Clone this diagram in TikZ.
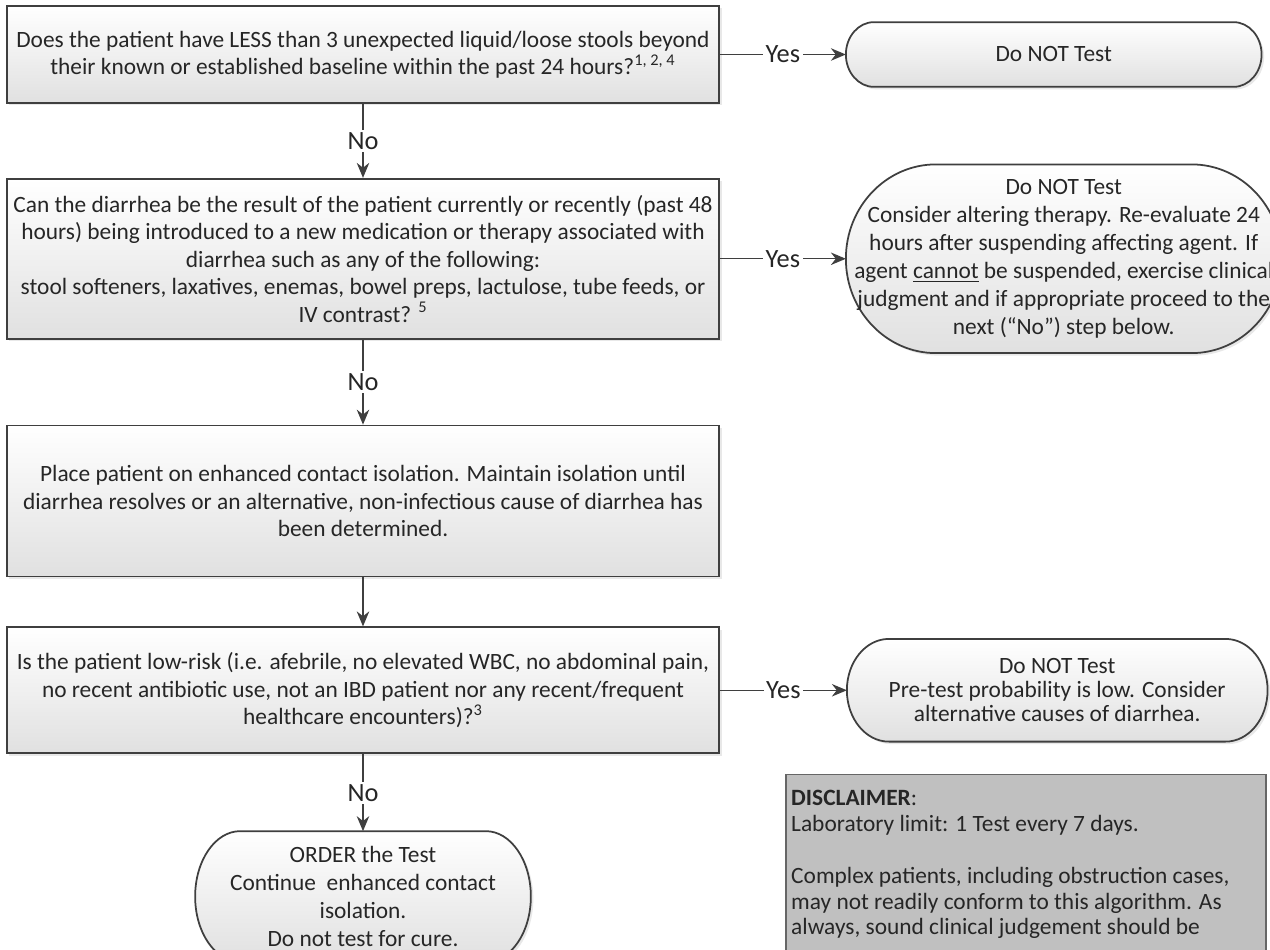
\documentclass[tikz,border=0pt]{standalone}
\usepackage{fontspec}
\setmainfont{Carlito}
\usepackage{tikz}
\usetikzlibrary{positioning, arrows.meta, calc, backgrounds, shadows}
\definecolor{edgegray}{HTML}{3F3F3F}
\definecolor{inkgray}{HTML}{262626}
\definecolor{discgray}{HTML}{C0C0C0}
\tikzstyle{arrow} = [thick,->,>={Stealth[length=3mm,width=2.5mm]},draw=edgegray]
\tikzstyle{softshadow} = [drop shadow={shadow xshift=0.5mm, shadow yshift=-0.5mm, opacity=0.18}]
\tikzstyle{question} = [rectangle, minimum width=142.4mm, align=center, draw=edgegray, line width=1pt, top color=white, bottom color=black!12, softshadow, text=inkgray, font=\fontsize{13.3pt}{15.6pt}\selectfont]
\tikzstyle{terminal} = [rectangle, inner xsep=0mm, align=center, text=inkgray, font=\fontsize{13.3pt}{15.9pt}\selectfont]
\tikzstyle{termline} = [draw=edgegray, line width=1pt, top color=white, bottom color=black!12, softshadow]
\tikzstyle{answer} = [fill=white, inner sep=0.5mm, text=inkgray, font=\fontsize{15pt}{16pt}\selectfont]
\tikzstyle{disclaimer} = [rectangle, draw=black!60, line width=1pt, fill=discgray, inner xsep=1mm, inner ysep=3.2mm, text=inkgray, font=\fontsize{13.3pt}{14.7pt}\selectfont]
% terminator outline round a named node: #1 node, #2 end radius
\newcommand{\termoutline}[2]{%
  \path[termline] let \p1=(#1.north west), \p2=(#1.south east), \n1={(\y1-\y2)/2} in
    ({\x1+#2},\y1) -- ({\x2-#2},\y1) arc[start angle=90, end angle=-90, x radius=#2, y radius=\n1]
    -- ({\x1+#2},\y2) arc[start angle=270, end angle=90, x radius=#2, y radius=\n1] -- cycle;}

\begin{document}
\begin{tikzpicture}[node distance=14.8mm]
\useasboundingbox (-72.6mm,10.9mm) rectangle ++(254mm,-190mm);
\node (lessthree) [question, minimum height=19.4mm] {Does the patient have LESS than 3 unexpected liquid/loose stools beyond\\their known or established baseline within the past 24 hours?\textsuperscript{1, 2, 4}};
\node (notest) [terminal, right=25.2mm of lessthree, minimum width=83mm, minimum height=12.8mm] {Do NOT Test};
\node (medication) [question, below=14.8mm of lessthree, minimum height=32mm] {Can the diarrhea be the result of the patient currently or recently (past 48\\hours) being introduced to a new medication or therapy associated with\\diarrhea such as any of the following:\\stool softeners, laxatives, enemas, bowel preps, lactulose, tube feeds, or\\IV contrast? \textsuperscript{5}};
\node (altering) [terminal, right=25.2mm of medication, minimum width=87mm, minimum height=37.6mm, font=\fontsize{13.3pt}{16pt}\selectfont] {Do NOT Test\\Consider altering therapy. Re-evaluate 24\\hours after suspending affecting agent. If\\agent \underline{cannot} be suspended, exercise clinical\\judgment and if appropriate proceed to the\\next (“No”) step below.};
\node (isolation) [question, below=17mm of medication, minimum height=30.2mm] {Place patient on enhanced contact isolation. Maintain isolation until\\diarrhea resolves or an alternative, non-infectious cause of diarrhea has\\been determined.};
\node (lowrisk) [question, below=9.8mm of isolation, minimum height=25.2mm] {Is the patient low-risk (i.e. afebrile, no elevated WBC, no abdominal pain,\\no recent antibiotic use, not an IBD patient nor any recent/frequent\\healthcare encounters)?\textsuperscript{3}};
\node (pretest) [terminal, right=25.4mm of lowrisk, minimum width=84mm, minimum height=20.4mm, font=\fontsize{13.3pt}{13.6pt}\selectfont] {Do NOT Test\\Pre-test probability is low. Consider\\alternative causes of diarrhea.};
\node (order) [terminal, below=15.4mm of lowrisk, minimum width=67mm, minimum height=26mm, font=\fontsize{13.3pt}{16pt}\selectfont] {ORDER the Test\\Continue\ \ enhanced contact\\isolation.\\Do not test for cure.};
\node (disclaimer) [disclaimer, below=6.4mm of pretest, xshift=-6.2mm] {\parbox[t][42mm][t]{94mm}{\raggedright\textbf{DISCLAIMER}:\\Laboratory limit: 1 Test every 7 days.\\[14.7pt]Complex patients, including obstruction cases,\\may not readily conform to this algorithm. As\\always, sound clinical judgement should be}};

\begin{scope}[on background layer]
\termoutline{notest}{5.6mm}
\termoutline{altering}{18mm}
\termoutline{pretest}{8.4mm}
\termoutline{order}{9mm}
\end{scope}

\draw [arrow] (lessthree) -- node[answer]{Yes} (notest);
\draw [arrow] (lessthree) -- node[answer]{No} (medication);
\draw [arrow] (medication) -- node[answer]{Yes} (altering);
\draw [arrow] (medication) -- node[answer]{No} (isolation);
\draw [arrow] (isolation) -- (lowrisk);
\draw [arrow] (lowrisk) -- node[answer]{Yes} (pretest);
\draw [arrow] (lowrisk) -- node[answer]{No} (order);
\end{tikzpicture}
\end{document}
